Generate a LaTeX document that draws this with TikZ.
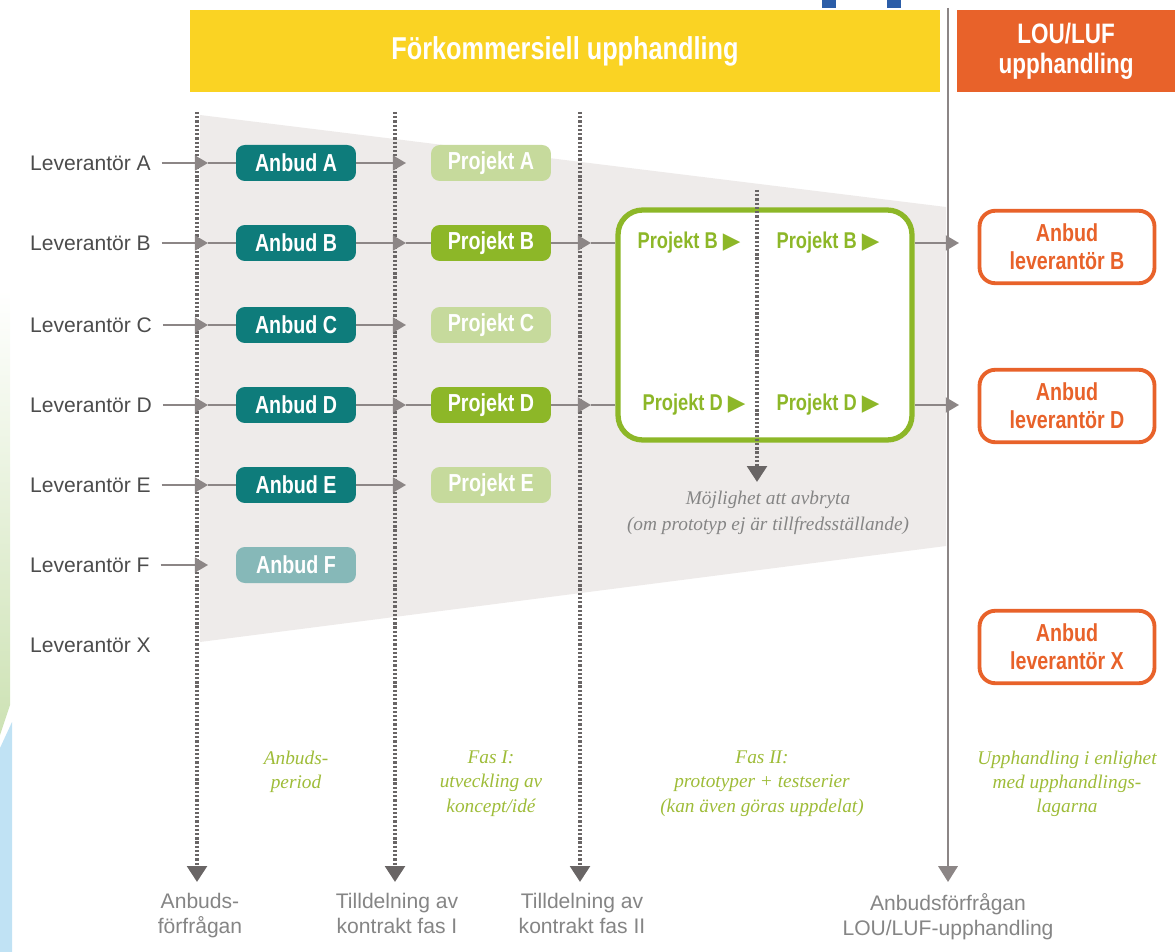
\documentclass[tikz,border=0pt]{standalone}
\usepackage{fontspec}
\setmainfont{Liberation Sans}
\newfontfamily\condfont[FakeStretch=0.8]{Liberation Sans}
\newfontfamily\symfont{DejaVu Sans}
\newfontfamily\notefont{Liberation Serif}
\usetikzlibrary{arrows.meta}

\definecolor{hdryellow}{RGB}{250,211,35}
\definecolor{hdrorange}{RGB}{232,98,42}
\definecolor{anbteal}{RGB}{14,124,123}
\definecolor{anbpale}{RGB}{134,184,184}
\definecolor{prjgreen}{RGB}{141,183,40}
\definecolor{prjpale}{RGB}{198,218,156}
\definecolor{phasegreen}{RGB}{158,188,56}
\definecolor{flowgray}{RGB}{140,134,134}
\definecolor{funnelgray}{RGB}{238,235,234}
\definecolor{edgegreen}{RGB}{205,226,180}
\definecolor{edgeblue}{RGB}{192,226,244}
\definecolor{logoblue}{RGB}{43,93,168}

\begin{document}
\begin{tikzpicture}[x=0.02cm, y=-0.02cm,
  lev/.style={anchor=west, inner sep=1pt, text=black!70, font=\fontsize{12}{14}\selectfont},
  pill/.style={rounded corners=5pt, minimum width=2.4cm, minimum height=0.72cm, inner sep=0pt,
    text=white, font=\condfont\bfseries\fontsize{14}{16}\selectfont},
  anbud/.style={pill, fill=anbteal},
  projekt/.style={pill, fill=prjgreen},
  loubox/.style={draw=hdrorange, line width=2.2pt, rounded corners=9pt, fill=white, text=hdrorange,
    align=center, minimum width=3.5cm, minimum height=1.45cm, inner sep=0pt,
    font=\condfont\bfseries\fontsize{14}{16}\selectfont},
  inproj/.style={text=prjgreen, inner sep=0pt, font=\condfont\bfseries\fontsize{13}{15}\selectfont},
  flow/.style={draw=flowgray, line width=1.2pt},
  tip/.style={-{Triangle[length=7.5pt,width=8.5pt]}},
  gate/.style={draw=flowgray!75!black, line width=2.3pt, dash pattern=on 1.3pt off 1.1pt,
    -{Triangle[length=9pt,width=11pt]}},
  phase/.style={anchor=north, align=center, text=phasegreen, font=\notefont\itshape\fontsize{11}{13.7}\selectfont},
  milestone/.style={anchor=north, align=center, text=black!48, font=\fontsize{12}{14.2}\selectfont}]
\useasboundingbox (0,0) rectangle (1175,952);

% left edge and logo bits
\shade[top color=white, bottom color=edgegreen] (0,290) -- (10,290) -- (10,705) -- (0,735) -- cycle;
\fill[edgeblue] (0,748) -- (12,722) -- (12,952) -- (0,952) -- cycle;
\fill[logoblue] (822,0) rectangle (836,8);
\fill[logoblue] (887,0) rectangle (901,8);

% headers
\node[fill=hdryellow, minimum width=15cm, minimum height=1.64cm, text=white,
  font=\condfont\bfseries\fontsize{18}{20}\selectfont] (pcp) at (565,51) {Förkommersiell upphandling};
\node[fill=hdrorange, minimum width=4.36cm, minimum height=1.64cm, text=white, align=center,
  font=\condfont\bfseries\fontsize{16}{17}\selectfont] (lou) at (1066,51) {LOU/LUF\\upphandling};

% funnel
\fill[funnelgray] (200,115) -- (946,207) -- (946,546) -- (200,642) -- cycle;

% gates
\draw[gate] (197,112) -- (197,882);
\draw[gate] (395,112) -- (395,882);
\draw[gate] (580,112) -- (580,882);
\draw[flowgray, line width=1.2pt, -{Triangle[length=9pt,width=11pt]}] (948,8) -- (948,882);
\coordinate (g1) at (208,0);
\coordinate (g2) at (406,0);
\coordinate (g3) at (591,0);
\coordinate (g4) at (959,0);

% suppliers
\node[lev] (levA) at (28,163) {Leverantör A};
\node[lev] (levB) at (28,243) {Leverantör B};
\node[lev] (levC) at (28,325) {Leverantör C};
\node[lev] (levD) at (28,405) {Leverantör D};
\node[lev] (levE) at (28,485) {Leverantör E};
\node[lev] (levF) at (28,565) {Leverantör F};
\node[lev] (levX) at (28,645) {Leverantör X};

% bids
\node[anbud] (anbA) at (296,163) {Anbud A};
\node[anbud] (anbB) at (296,243) {Anbud B};
\node[anbud] (anbC) at (296,325) {Anbud C};
\node[anbud] (anbD) at (296,405) {Anbud D};
\node[anbud] (anbE) at (296,485) {Anbud E};
\node[pill, fill=anbpale] (anbF) at (296,565) {Anbud F};

% phase I projects
\node[pill, fill=prjpale] (prjA) at (491,163) {Projekt A};
\node[projekt] (prjB) at (491,243) {Projekt B};
\node[pill, fill=prjpale] (prjC) at (491,325) {Projekt C};
\node[projekt] (prjD) at (491,405) {Projekt D};
\node[pill, fill=prjpale] (prjE) at (491,485) {Projekt E};

% phase II
\node[draw=prjgreen, line width=3pt, rounded corners=14pt, fill=white,
  minimum width=5.88cm, minimum height=4.6cm] (fas2) at (765,325) {};
\node[inproj] (fasB1) at (689,243) {Projekt B {\symfont ▶}};
\node[inproj] (fasB2) at (828,243) {Projekt B {\symfont ▶}};
\node[inproj] (fasD1) at (694,405) {Projekt D {\symfont ▶}};
\node[inproj] (fasD2) at (828,405) {Projekt D {\symfont ▶}};
\draw[gate] (757,190) -- (757,482);
\node[align=center, text=black!48, font=\notefont\itshape\fontsize{11}{15}\selectfont] (stop) at (768,513)
  {Möjlighet att avbryta\\(om prototyp ej är tillfredsställande)};

% LOU/LUF bids
\node[loubox] (louB) at (1067,247) {Anbud\\leverantör B};
\node[loubox] (louD) at (1067,406) {Anbud\\leverantör D};
\node[loubox] (louX) at (1067,647) {Anbud\\leverantör X};

% flows
\draw[flow, tip, shorten <=5pt] (levA) -- (levA -| g1);
\draw[flow, tip, shorten <=5pt] (levB) -- (levB -| g1);
\draw[flow, tip, shorten <=5pt] (levC) -- (levC -| g1);
\draw[flow, tip, shorten <=5pt] (levD) -- (levD -| g1);
\draw[flow, tip, shorten <=5pt] (levE) -- (levE -| g1);
\draw[flow, tip, shorten <=5pt] (levF) -- (levF -| g1);
\draw[flow] (levA -| g1) -- (anbA);
\draw[flow] (levB -| g1) -- (anbB);
\draw[flow] (levC -| g1) -- (anbC);
\draw[flow] (levD -| g1) -- (anbD);
\draw[flow] (levE -| g1) -- (anbE);
\draw[flow, tip] (anbA) -- (anbA -| g2);
\draw[flow, tip] (anbB) -- (anbB -| g2);
\draw[flow, tip] (anbC) -- (anbC -| g2);
\draw[flow, tip] (anbD) -- (anbD -| g2);
\draw[flow, tip] (anbE) -- (anbE -| g2);
\draw[flow] (anbB -| g2) -- (prjB);
\draw[flow] (anbD -| g2) -- (prjD);
\draw[flow, tip] (prjB) -- (prjB -| g3);
\draw[flow, tip] (prjD) -- (prjD -| g3);
\draw[flow] (prjB -| g3) -- (prjB -| fas2.west);
\draw[flow] (prjD -| g3) -- (prjD -| fas2.west);
\draw[flow, tip] (prjB -| fas2.east) -- (prjB -| g4);
\draw[flow, tip] (prjD -| fas2.east) -- (prjD -| g4);

% phase notes
\node[phase] (perAnb) at (296,745) {Anbuds-\\period};
\node[phase] (perFas1) at (491,745) {Fas I:\\utveckling av\\koncept/idé};
\node[phase] (perFas2) at (762,745) {Fas II:\\prototyper + testserier\\(kan även göras uppdelat)};
\node[phase] (perLou) at (1067,745) {Upphandling i enlighet\\med upphandlings-\\lagarna};

% milestones
\node[milestone] (msAnb) at (200,887) {Anbuds-\\förfrågan};
\node[milestone] (msFas1) at (397,887) {Tilldelning av\\kontrakt fas I};
\node[milestone] (msFas2) at (582,887) {Tilldelning av\\kontrakt fas II};
\node[milestone] (msLou) at (948,887) {Anbudsförfrågan\\LOU/LUF-upphandling};
\end{tikzpicture}
\end{document}
